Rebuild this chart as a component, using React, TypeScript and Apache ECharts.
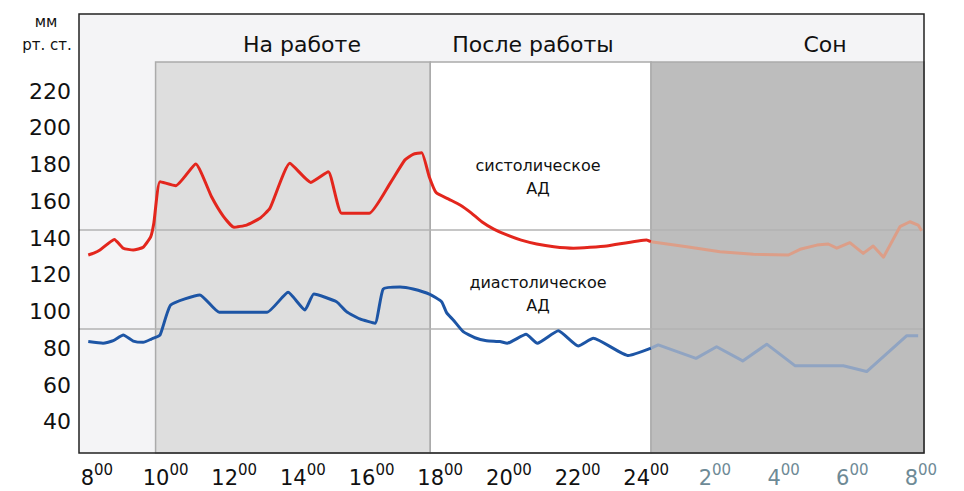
import React, { useEffect, useRef } from "react";
import * as echarts from "echarts";

// ---- data (hours from 8:00 to 8:00 next day; values in mm Hg) ----
const sysDayHours = [8.04, 8.2, 8.38, 8.8, 9.06, 9.35, 9.64, 9.86, 9.95, 10.13, 10.59, 11.17, 11.63, 11.97, 12.28, 12.65, 13.04, 13.33, 13.91, 14.52, 15.03, 15.42, 16.22, 16.83, 17.26, 17.5, 17.75, 17.97, 18.17, 18.55, 18.87, 19.2, 19.5, 19.85, 20.23, 20.65, 21.1, 21.6, 22.17, 23.14, 24.3, 24.43];
const sysDayValues = [130.8, 131.8, 133.5, 139.3, 134.5, 133.5, 135.0, 140.8, 148.2, 170.7, 168.5, 180.3, 162.5, 152.0, 145.9, 147.1, 150.8, 156.2, 180.7, 170.3, 176.1, 153.5, 153.5, 169.8, 182.5, 185.6, 186.4, 173.4, 164.8, 161.1, 158.0, 153.6, 148.9, 144.9, 141.7, 138.9, 136.8, 135.3, 134.5, 135.7, 139.0, 138.0];

const sysNightHours = [24.43, 25.47, 26.44, 27.41, 28.43, 28.77, 29.26, 29.59, 29.84, 30.22, 30.61, 30.9, 31.2, 31.68, 31.97, 32.21, 32.31];
const sysNightValues = [138.0, 135.3, 132.6, 131.2, 130.8, 133.9, 136.2, 136.8, 134.5, 137.5, 131.7, 135.7, 129.6, 146.2, 148.9, 147.1, 144.0];

const diaDayHours = [8.04, 8.47, 8.77, 9.06, 9.35, 9.64, 9.88, 10.13, 10.44, 11.29, 11.85, 13.25, 13.86, 14.35, 14.61, 15.27, 15.56, 15.95, 16.39, 16.63, 17.12, 17.5, 17.99, 18.33, 18.48, 18.67, 18.96, 19.3, 19.64, 20.03, 20.24, 20.79, 21.12, 21.73, 22.31, 22.75, 23.77, 24.43];
const diaDayValues = [83.7, 82.8, 84.2, 87.3, 84.0, 83.3, 85.1, 87.3, 103.6, 109.1, 99.7, 99.7, 110.5, 100.9, 109.6, 105.4, 100.0, 96.0, 93.7, 112.3, 113.4, 112.3, 109.4, 105.4, 99.3, 95.5, 89.1, 85.8, 84.2, 83.7, 82.8, 87.7, 82.8, 89.6, 81.3, 85.5, 76.1, 80.1];

const diaNightHours = [24.43, 24.64, 25.74, 26.34, 27.1, 27.8, 28.62, 30.03, 30.71, 31.88, 32.21];
const diaNightValues = [80.1, 81.9, 74.6, 80.9, 73.2, 82.3, 70.6, 70.6, 67.4, 86.9, 86.9];

const xTickHours = [8, 10, 12, 14, 16, 18, 20, 22, 24, 26, 28, 30, 32];
const yTickValues = [40, 60, 80, 100, 120, 140, 160, 180, 200, 220];
const referenceLevels = [144.4, 90.6];

const periodNames = ["На работе", "После работы", "Сон"];
const periodStarts = [10, 18, 24.43];
const periodEnds = [18, 24.43, 32.38];

const X_MIN = 7.77;
const X_MAX = 32.38;
const Y_MIN = 23.1;
const Y_MAX = 261.9;
const BAND_TOP = 235.8;

const FONT = "DejaVu Sans";

const zip = (xs: number[], ys: number[]) => xs.map((x, i) => [x, ys[i]]);

export default function App() {
  const ref = useRef<HTMLDivElement>(null);

  useEffect(() => {
    if (!ref.current) return;
    const chart = echarts.init(ref.current, null, { renderer: "svg" });

    const periodColors = ["#dedede", "#ffffff", "#bdbdbd"];

    const option: any = {
      animation: false,
      grid: {
        left: 79,
        right: 40,
        top: 14,
        bottom: 38,
        show: true,
        backgroundColor: "#f4f4f6",
        borderWidth: 0,
      },
      xAxis: {
        type: "value",
        min: X_MIN,
        max: X_MAX,
        axisLine: { show: false },
        axisTick: { show: false },
        splitLine: { show: false },
        axisLabel: {
          customValues: xTickHours,
          margin: 9,
          padding: [0, 0, 0, 20],
          formatter: (v: number) => {
            const h = v === 24 ? 24 : v % 24;
            return v > 24 ? `{c|${h}}{d|00}` : `{a|${h}}{b|00}`;
          },
          rich: {
            a: { fontFamily: FONT, fontSize: 21, color: "#111", lineHeight: 31, verticalAlign: "middle" },
            b: { fontFamily: FONT, fontSize: 15, color: "#111", lineHeight: 15, verticalAlign: "top" },
            c: { fontFamily: FONT, fontSize: 21, color: "#6e8a96", lineHeight: 31, verticalAlign: "middle" },
            d: { fontFamily: FONT, fontSize: 15, color: "#6e8a96", lineHeight: 15, verticalAlign: "top" },
          },
        },
      },
      yAxis: {
        type: "value",
        min: Y_MIN,
        max: Y_MAX,
        axisLine: { show: false },
        axisTick: { show: false },
        splitLine: { show: false },
        axisLabel: {
          customValues: yTickValues,
          fontFamily: FONT,
          fontSize: 22,
          color: "#111",
          margin: 8,
        },
      },
      series: [
        {
          type: "line",
          data: [],
          z: 1,
          silent: true,
          markArea: {
            silent: true,
            itemStyle: { borderColor: "#ababab", borderWidth: 1.5 },
            data: periodNames.map((_, i) => [
              { xAxis: periodStarts[i], yAxis: Y_MIN, itemStyle: { color: periodColors[i], borderColor: "#ababab", borderWidth: 1.5 } },
              { xAxis: periodEnds[i], yAxis: BAND_TOP },
            ]),
          },
          markLine: {
            silent: true,
            symbol: "none",
            label: { show: false },
            lineStyle: { color: "#b3b3b3", width: 1.5, type: "solid" },
            data: referenceLevels.map((v) => ({ yAxis: v })),
          },
        },
        {
          type: "line",
          data: zip(sysDayHours, sysDayValues),
          showSymbol: false,
          smooth: 0.15,
          z: 5,
          lineStyle: { color: "#e3261d", width: 3, join: "round" },
        },
        {
          type: "line",
          data: zip(sysNightHours, sysNightValues),
          showSymbol: false,
          z: 5,
          lineStyle: { color: "#dc9e88", width: 3, join: "round" },
        },
        {
          type: "line",
          data: zip(diaDayHours, diaDayValues),
          showSymbol: false,
          smooth: 0.15,
          z: 5,
          lineStyle: { color: "#1d55a5", width: 3, join: "round" },
        },
        {
          type: "line",
          data: zip(diaNightHours, diaNightValues),
          showSymbol: false,
          z: 5,
          lineStyle: { color: "#90a4c2", width: 3, join: "round" },
        },
      ],
      graphic: [
        {
          type: "rect",
          z: 100,
          silent: true,
          shape: { x: 79, y: 14, width: 845, height: 439 },
          style: { fill: "none", stroke: "#222", lineWidth: 1.5 },
        },
        {
          type: "text",
          x: 46,
          y: 22,
          style: { text: "мм", fontFamily: FONT, fontSize: 15, fill: "#111", align: "center", verticalAlign: "middle" },
        },
        {
          type: "text",
          x: 47,
          y: 45,
          style: { text: "рт. ст.", fontFamily: FONT, fontSize: 15, fill: "#111", align: "center", verticalAlign: "middle" },
        },
        {
          type: "text",
          x: 302,
          y: 44,
          style: { text: periodNames[0], fontFamily: FONT, fontSize: 22, fill: "#111", align: "center", verticalAlign: "middle" },
        },
        {
          type: "text",
          x: 533,
          y: 44,
          style: { text: periodNames[1], fontFamily: FONT, fontSize: 22, fill: "#111", align: "center", verticalAlign: "middle" },
        },
        {
          type: "text",
          x: 825,
          y: 44,
          style: { text: periodNames[2], fontFamily: FONT, fontSize: 22, fill: "#111", align: "center", verticalAlign: "middle" },
        },
        {
          type: "text",
          x: 538,
          y: 177,
          z: 50,
          style: { text: "систолическое\nАД", fontFamily: FONT, fontSize: 16, lineHeight: 23, fill: "#111", align: "center", verticalAlign: "middle" },
        },
        {
          type: "text",
          x: 538,
          y: 294,
          z: 50,
          style: { text: "диастолическое\nАД", fontFamily: FONT, fontSize: 16, lineHeight: 23, fill: "#111", align: "center", verticalAlign: "middle" },
        },
      ],
    };

    chart.setOption(option);
    return () => chart.dispose();
  }, []);

  return (
    <div
      ref={ref}
      style={{ position: "fixed", left: 0, top: 0, width: 964, height: 491, background: "#fff" }}
    />
  );
}
